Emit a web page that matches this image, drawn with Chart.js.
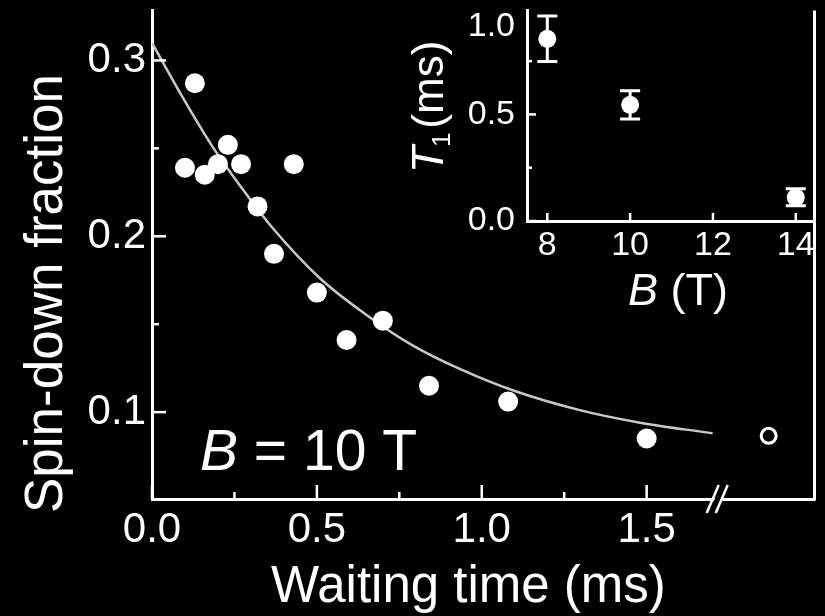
<!DOCTYPE html>
<html>
<head>
<meta charset="utf-8">
<title>Spin-down fraction vs waiting time</title>
<script src="https://cdn.jsdelivr.net/npm/chart.js@4.4.1/dist/chart.umd.min.js"></script>
<style>
  html, body { margin: 0; padding: 0; background: #000; }
  #wrap { position: relative; width: 825px; height: 616px; }
  #main { position: absolute; left: 0; top: 0; }
  #inset { position: absolute; left: 400px; top: 0; }
</style>
</head>
<body>
<div id="wrap">
  <canvas id="main" width="825" height="616"></canvas>
  <canvas id="inset" width="425" height="320"></canvas>
</div>
<script>
// decay of the spin-down fraction at B = 10 T
var waitTimes = [0.10, 0.13, 0.16, 0.20, 0.23, 0.27, 0.32, 0.37, 0.43, 0.50, 0.59, 0.70, 0.84, 1.08, 1.50];
var spinDown  = [0.239, 0.287, 0.235, 0.241, 0.252, 0.241, 0.217, 0.190, 0.241, 0.168, 0.141, 0.152, 0.115, 0.106, 0.085];

// reference point, sits past the axis break
var lateTime = [1.87];
var lateSpinDown = [0.0865];

// fitted decay curve
var fitTimes  = [0.00, 0.09, 0.18, 0.27, 0.36, 0.51, 0.66, 0.79, 0.94, 1.10, 1.30, 1.48, 1.70];
var fitValues = [0.310, 0.280, 0.252, 0.228, 0.206, 0.176, 0.154, 0.138, 0.124, 0.112, 0.101, 0.094, 0.088];

var timeTicks = [0, 0.5, 1.0, 1.5];
var timeMinor = [0.25, 0.75, 1.25];
var fracTicks = [0.1, 0.2, 0.3];
var fracMinor = [0.15, 0.25];
var breakAt = 1.714;

// inset: T1 against field
var fields   = [8, 10, 14];
var t1Values = [0.855, 0.545, 0.111];
var t1Errors = [0.107, 0.066, 0.04];
var fieldTicks = [8, 10, 12, 14];
var t1Ticks = [0.0, 0.5, 1.0];
var t1Minor = [0.25, 0.75];

var FONT = '"Liberation Sans", Arial, Helvetica, sans-serif';
Chart.defaults.font.family = FONT;
Chart.defaults.color = '#fff';

function pts(xs, ys) {
  return xs.map(function(x, i) { return { x: x, y: ys[i] }; });
}

// fixed box size, no extra room for edge labels
function fixBox(size) {
  return function(s) {
    if (s.isHorizontal()) s.height = size; else s.width = size;
    s.paddingTop = s.paddingBottom = s.paddingLeft = s.paddingRight = 0;
  };
}

// ticks point into the plot
function inwardTicks(ctx, scale, values, len, area) {
  values.forEach(function(v) {
    var p = scale.getPixelForValue(v);
    if (scale.isHorizontal()) {
      if (p < area.left - 1 || p > area.right + 1) return;
      ctx.beginPath();
      ctx.moveTo(p, area.bottom);
      ctx.lineTo(p, area.bottom - len);
      ctx.stroke();
    } else {
      if (p < area.top - 1 || p > area.bottom + 1) return;
      ctx.beginPath();
      ctx.moveTo(area.left, p);
      ctx.lineTo(area.left + len, p);
      ctx.stroke();
    }
  });
}

var mainDecor = {
  id: 'mainDecor',
  afterDraw: function(chart) {
    var ctx = chart.ctx, a = chart.chartArea;
    var xs = chart.scales.x, ys = chart.scales.y;
    ctx.save();
    ctx.strokeStyle = '#fff';
    ctx.lineWidth = 3;

    // right frame line
    ctx.beginPath();
    ctx.moveTo(a.right, a.top);
    ctx.lineTo(a.right, a.bottom + 1.5);
    ctx.stroke();

    ctx.lineWidth = 2.5;
    inwardTicks(ctx, xs, timeTicks, 14, a);
    inwardTicks(ctx, xs, timeMinor, 7, a);
    inwardTicks(ctx, ys, fracTicks, 14, a);
    inwardTicks(ctx, ys, fracMinor, 7, a);

    // axis break
    var bx = xs.getPixelForValue(breakAt), by = a.bottom;
    ctx.fillStyle = '#000';
    ctx.beginPath();
    ctx.moveTo(bx - 4, by + 4);
    ctx.lineTo(bx + 4, by + 4);
    ctx.lineTo(bx + 7, by - 4);
    ctx.lineTo(bx - 1, by - 4);
    ctx.closePath();
    ctx.fill();
    ctx.lineWidth = 2.5;
    [-4.5, 4.5].forEach(function(off) {
      ctx.beginPath();
      ctx.moveTo(bx + off - 6, by + 14);
      ctx.lineTo(bx + off + 6, by - 14);
      ctx.stroke();
    });

    // axis titles
    ctx.fillStyle = '#fff';
    ctx.textAlign = 'left';
    ctx.textBaseline = 'alphabetic';
    ctx.font = '51px ' + FONT;
    ctx.fillText('Waiting time (ms)', 271, 602);

    ctx.save();
    ctx.translate(62, 513);
    ctx.rotate(-Math.PI / 2);
    ctx.font = '53px ' + FONT;
    ctx.fillText('Spin-down fraction', 0, 0);
    ctx.restore();

    // field label
    ctx.font = 'italic 57px ' + FONT;
    ctx.fillText('B', 200, 470);
    var w = ctx.measureText('B').width;
    ctx.font = '57px ' + FONT;
    ctx.fillText(' = 10 T', 200 + w, 470);
    ctx.restore();
  }
};

var insetDecor = {
  id: 'insetDecor',
  beforeDatasetsDraw: function(chart) {
    var ctx = chart.ctx;
    var xs = chart.scales.x, ys = chart.scales.y;
    ctx.save();
    ctx.strokeStyle = '#fff';
    ctx.lineWidth = 3;
    fields.forEach(function(b, i) {
      var px = xs.getPixelForValue(b);
      var top = ys.getPixelForValue(t1Values[i] + t1Errors[i]);
      var bot = ys.getPixelForValue(t1Values[i] - t1Errors[i]);
      ctx.beginPath();
      ctx.moveTo(px, top); ctx.lineTo(px, bot);
      ctx.moveTo(px - 10, top); ctx.lineTo(px + 10, top);
      ctx.moveTo(px - 10, bot); ctx.lineTo(px + 10, bot);
      ctx.stroke();
    });
    ctx.restore();
  },
  afterDraw: function(chart) {
    var ctx = chart.ctx, a = chart.chartArea;
    ctx.save();
    ctx.strokeStyle = '#fff';
    ctx.lineWidth = 2.5;
    inwardTicks(ctx, chart.scales.x, fieldTicks, 8, a);
    inwardTicks(ctx, chart.scales.y, t1Ticks, 9, a);
    inwardTicks(ctx, chart.scales.y, t1Minor, 5, a);

    ctx.fillStyle = '#fff';
    ctx.textAlign = 'left';
    ctx.textBaseline = 'alphabetic';

    // B (T)
    ctx.font = 'italic 45px ' + FONT;
    ctx.fillText('B', 228, 305);
    var w = ctx.measureText('B').width;
    ctx.font = '45px ' + FONT;
    ctx.fillText(' (T)', 228 + w, 305);

    // T1 (ms), rotated
    ctx.translate(43, 173);
    ctx.rotate(-Math.PI / 2);
    ctx.font = 'italic 44px ' + FONT;
    ctx.fillText('T', 0, 0);
    var x = ctx.measureText('T').width;
    ctx.font = '26px ' + FONT;
    ctx.fillText('1', x - 1, 7);
    x += ctx.measureText('1').width + 3;
    ctx.font = '44px ' + FONT;
    ctx.fillText('(ms)', x, 0);
    ctx.restore();
  }
};

new Chart(document.getElementById('main'), {
  type: 'scatter',
  data: {
    datasets: [
      {
        data: pts(fitTimes, fitValues),
        showLine: true,
        borderColor: '#c8c8c8',
        borderWidth: 2.5,
        pointRadius: 0,
        cubicInterpolationMode: 'monotone',
        order: 3
      },
      {
        data: pts(waitTimes, spinDown),
        pointRadius: 10,
        backgroundColor: '#fff',
        borderWidth: 0,
        order: 2
      },
      {
        data: pts(lateTime, lateSpinDown),
        pointRadius: 7.5,
        backgroundColor: '#000',
        borderColor: '#fff',
        borderWidth: 3,
        order: 1
      }
    ]
  },
  options: {
    responsive: false,
    animation: false,
    events: [],
    layout: { padding: { top: 10, right: 10 } },
    plugins: { legend: { display: false }, tooltip: { enabled: false } },
    scales: {
      x: {
        type: 'linear',
        min: 0,
        max: 2.009,
        grid: { display: false, drawTicks: false },
        border: { color: '#fff', width: 3 },
        ticks: {
          color: '#fff',
          font: { size: 42 },
          padding: 6,
          maxRotation: 0,
          autoSkip: false,
          callback: function(v) { return v.toFixed(1); }
        },
        afterBuildTicks: function(s) { s.ticks = timeTicks.map(function(v) { return { value: v }; }); },
        afterFit: fixBox(117)
      },
      y: {
        min: 0.0506,
        max: 0.3284,
        grid: { display: false, drawTicks: false },
        border: { color: '#fff', width: 3 },
        ticks: {
          color: '#fff',
          font: { size: 42 },
          padding: 6,
          autoSkip: false,
          callback: function(v) { return v.toFixed(1); }
        },
        afterBuildTicks: function(s) { s.ticks = fracTicks.map(function(v) { return { value: v }; }); },
        afterFit: fixBox(152)
      }
    }
  },
  plugins: [mainDecor]
});

new Chart(document.getElementById('inset'), {
  type: 'scatter',
  data: {
    datasets: [{
      data: pts(fields, t1Values),
      pointRadius: 9,
      backgroundColor: '#fff',
      borderWidth: 0
    }]
  },
  options: {
    responsive: false,
    animation: false,
    events: [],
    layout: { padding: { top: 10, right: 11 } },
    plugins: { legend: { display: false }, tooltip: { enabled: false } },
    scales: {
      x: {
        type: 'linear',
        min: 7.51,
        max: 14.44,
        grid: { display: false, drawTicks: false },
        border: { color: '#fff', width: 3 },
        ticks: {
          color: '#fff',
          font: { size: 34 },
          padding: 4,
          maxRotation: 0,
          autoSkip: false
        },
        afterBuildTicks: function(s) { s.ticks = fieldTicks.map(function(v) { return { value: v }; }); },
        afterFit: fixBox(99)
      },
      y: {
        min: 0,
        max: 0.99,
        grid: { display: false, drawTicks: false },
        border: { color: '#fff', width: 3 },
        ticks: {
          color: '#fff',
          font: { size: 34, lineHeight: 1.1 },
          padding: 12,
          autoSkip: false,
          // the top label is pushed down one half line so it stays on the canvas
          callback: function(v) { return v === 1 ? ['', v.toFixed(1)] : v.toFixed(1); }
        },
        afterBuildTicks: function(s) { s.ticks = t1Ticks.map(function(v) { return { value: v }; }); },
        afterFit: fixBox(127)
      }
    }
  },
  plugins: [insetDecor]
});
</script>
</body>
</html>
